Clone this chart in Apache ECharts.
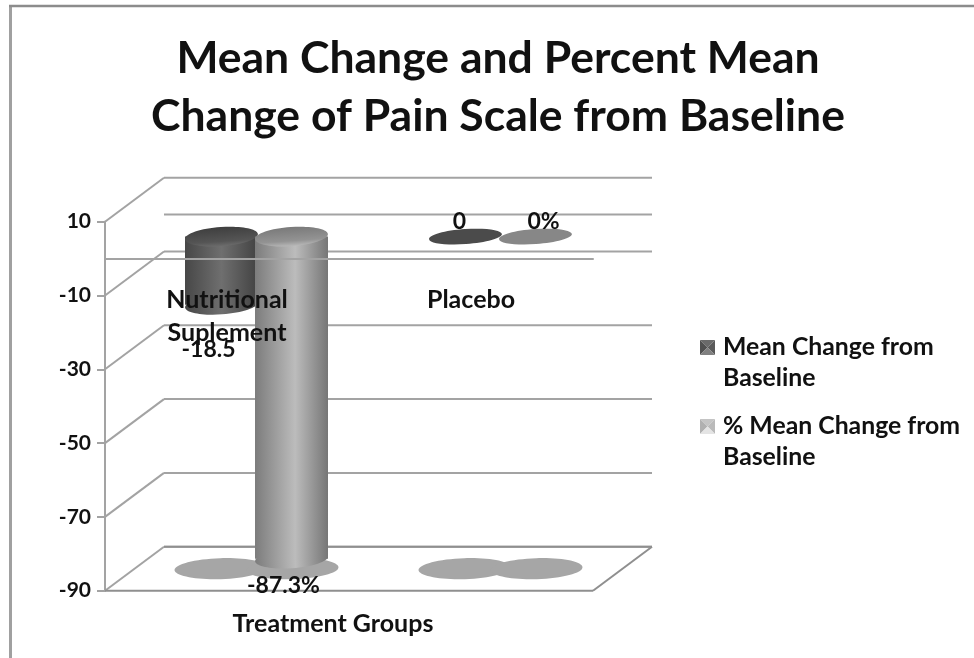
<!DOCTYPE html>
<html>
<head>
<meta charset="utf-8">
<style>html,body{margin:0;padding:0;background:#fff}#chart{width:974px;height:658px}</style>
<script src="https://cdn.jsdelivr.net/npm/echarts@6/dist/echarts.min.js"></script>
</head>
<body>
<div id="chart"></div>
<script>
const titleText = 'Mean Change and Percent Mean\nChange of Pain Scale from Baseline';
const categories = ['Nutritional\nSuplement', 'Placebo'];
const meanChange = [-18.5, 0];
const percentMeanChange = [-87.3, 0];
const meanName = 'Mean Change from Baseline';
const percentName = '% Mean Change from Baseline';
const axisTitle = 'Treatment Groups';
const wallLevels = [10, 0, -10, -30, -50, -70, -90];
const sideLevels = [10, -10, -30, -50, -70, -90];

const FONT = 'Lato';
const INK = '#111';
const DEPTH = [59, -44];
const RX = 36.5, RY = 9.5, TILT = 0.07;
const linear = (x, y, x2, y2, stops) => ({
  type: 'linear', x, y, x2, y2,
  colorStops: stops.map(([offset, color]) => ({ offset, color }))
});
const looks = {
  dark: {
    side: linear(0, 0, 1, 0, [[0, '#474747'], [0.5, '#6f6f6f'], [1, '#424242']]),
    top: linear(0, 0, 0, 1, [[0, '#3f3f3f'], [0.75, '#555555'], [1, '#6c6c6c']]),
    flat: '#4b4b4b',
    shift: -35,
    floorShift: -36
  },
  light: {
    side: linear(0, 0, 1, 0, [[0, '#7c7c7c'], [0.55, '#bcbcbc'], [1, '#767676']]),
    top: linear(0, 0, 0, 1, [[0, '#7a7a7a'], [0.72, '#939393'], [1, '#b8b8b8']]),
    flat: '#878787',
    shift: 35,
    floorShift: 36
  }
};

// Offsets of the value captions from the foot of each cylinder
const meanCaptionNudge = [[-13, 45], [-6, -15]];
const percentCaptionNudge = [[-8, 27], [8, -15]];

function ellipse(cx, cy, rx, ry, fill, tilt) {
  return {
    type: 'ellipse',
    shape: { cx: 0, cy: 0, rx, ry },
    x: cx, y: cy, rotation: tilt,
    style: { fill }
  };
}

// One cylinder hanging from the zero plane, half way into the chart's depth
function cylinderRenderer(look, captions, nudges) {
  return function (params, api) {
    const i = api.value(0);
    const v = api.value(1);
    const top = api.coord([i, 0]);
    const foot = api.coord([i, v]);
    const floor = api.coord([i, -90]);
    const mid = top[0] + DEPTH[0] / 2;
    const cx = mid + look.shift;
    const dy = DEPTH[1] / 2;
    const children = [ellipse(mid + look.floorShift, floor[1] + dy, 46, 10.5, '#a6a6a6', 0.03)];
    if (v !== 0) {
      children.push(ellipse(cx, foot[1] + dy, RX, RY, look.side, TILT));
      children.push({
        type: 'rect',
        shape: { x: cx - RX, y: top[1] + dy, width: RX * 2, height: foot[1] - top[1] },
        style: { fill: look.side }
      });
      children.push(ellipse(cx, top[1] + dy, RX, RY, look.top, TILT));
    } else {
      children.push(ellipse(cx, top[1] + dy, RX, RY - 2, look.flat, TILT));
    }
    children.push({
      type: 'text',
      z2: 100,
      x: cx + nudges[i][0],
      y: foot[1] + dy + nudges[i][1],
      style: {
        text: captions[i],
        fill: INK,
        font: '700 23px ' + FONT,
        align: 'center',
        verticalAlign: 'middle'
      }
    });
    return { type: 'group', children };
  };
}

// Back wall, side wall and floor rules, all projected from the value axis
function renderFrame(params, api) {
  const stroke = { stroke: '#a3a3a3', lineWidth: 2, fill: null };
  const seg = (a, b, style) => ({
    type: 'line',
    shape: { x1: a[0], y1: a[1], x2: b[0], y2: b[1] },
    style: style || stroke
  });
  const shift = p => [p[0] + DEPTH[0], p[1] + DEPTH[1]];
  const plot = params.coordSys;
  const left = l => [plot.x, api.coord([0, l])[1]];
  const right = l => [plot.x + plot.width, api.coord([0, l])[1]];
  const children = [];
  wallLevels.forEach(l => children.push(seg(shift(left(l)), shift(right(l)))));
  sideLevels.forEach(l => children.push(seg(left(l), shift(left(l)))));
  const floorStroke = { stroke: '#8f8f8f', lineWidth: 2, fill: null };
  children.push(seg(left(-90), right(-90), floorStroke));
  children.push(seg(right(-90), shift(right(-90)), floorStroke));
  children.push(seg(shift(left(-90)), shift(right(-90)), floorStroke));
  return { type: 'group', children };
}

const bevelIcon = (n, w, e, s) => 'image://data:image/svg+xml,' + encodeURIComponent(
  '<svg xmlns="http://www.w3.org/2000/svg" width="15" height="15">' +
  '<polygon points="0,0 15,0 7.5,7.5" fill="' + n + '"/>' +
  '<polygon points="0,0 0,15 7.5,7.5" fill="' + w + '"/>' +
  '<polygon points="15,0 15,15 7.5,7.5" fill="' + e + '"/>' +
  '<polygon points="0,15 15,15 7.5,7.5" fill="' + s + '"/></svg>');

const pairs = values => values.map((v, i) => [i, v]);

const chart = echarts.init(document.getElementById('chart'), null, { renderer: 'canvas' });
chart.setOption({
  animation: false,
  backgroundColor: '#ffffff',
  title: {
    text: titleText,
    left: 493,
    top: 25,
    textAlign: 'center',
    textStyle: { fontFamily: FONT, fontWeight: 700, fontSize: 44.5, lineHeight: 58, color: INK }
  },
  legend: {
    orient: 'vertical',
    left: 700,
    top: 301,
    padding: 0,
    itemWidth: 15,
    itemHeight: 15,
    itemGap: -14,
    selectedMode: false,
    align: 'left',
    data: [
      { name: meanName, icon: bevelIcon('#6a6a6a', '#505050', '#5a5a5a', '#808080') },
      { name: percentName, icon: bevelIcon('#c4c4c4', '#b0b0b0', '#bababa', '#e4e4e4') }
    ],
    // The leading blank line keeps each marker level with the first line of text
    formatter: n => '\n' + n.replace(/ from Baseline$/, ' from\nBaseline'),
    textStyle: { fontFamily: FONT, fontWeight: 700, fontSize: 24.8, lineHeight: 31, color: INK, padding: [0, 0, 0, 3] }
  },
  grid: { left: 105, top: 221.7, width: 488, height: 369, outerBoundsMode: 'none' },
  xAxis: {
    type: 'category',
    data: categories,
    z: 5,
    axisLine: { onZero: true, lineStyle: { color: '#a3a3a3', width: 2 } },
    axisTick: { show: false },
    axisLabel: {
      margin: -307,
      fontFamily: FONT, fontWeight: 700, fontSize: 25, lineHeight: 33, color: INK
    },
    name: axisTitle,
    nameLocation: 'middle',
    nameGap: 21,
    nameTextStyle: {
      fontFamily: FONT, fontWeight: 700, fontSize: 25, color: INK, padding: [0, 32, 0, 0]
    }
  },
  yAxis: {
    type: 'value',
    min: -90,
    max: 10,
    interval: 20,
    axisLine: { show: true, lineStyle: { color: '#a3a3a3', width: 2 } },
    axisTick: { show: true, length: 8, lineStyle: { color: '#a3a3a3', width: 2 } },
    splitLine: { show: false },
    axisLabel: { margin: 14, fontFamily: FONT, fontWeight: 700, fontSize: 21, color: INK, padding: [0, 0, 4, 0] }
  },
  series: [
    {
      name: 'frame',
      type: 'custom',
      z: 1,
      silent: true,
      renderItem: renderFrame,
      encode: { x: 0, y: 1 },
      data: [[0, -90]]
    },
    {
      name: meanName,
      type: 'custom',
      z: 2,
      renderItem: cylinderRenderer(looks.dark, meanChange.map(String), meanCaptionNudge),
      encode: { x: 0, y: 1 },
      data: pairs(meanChange)
    },
    {
      name: percentName,
      type: 'custom',
      z: 3,
      renderItem: cylinderRenderer(looks.light, percentMeanChange.map(v => v + '%'), percentCaptionNudge),
      encode: { x: 0, y: 1 },
      data: pairs(percentMeanChange)
    }
  ],
  graphic: [
    {
      type: 'line',
      silent: true,
      shape: { x1: 10.5, y1: 5, x2: 10.5, y2: 658 },
      style: { stroke: '#a0a0a0', lineWidth: 3 }
    },
    {
      type: 'line',
      silent: true,
      shape: { x1: 9, y1: 6, x2: 974, y2: 6 },
      style: { stroke: '#8c8c8c', lineWidth: 2.5 }
    }
  ]
});
</script>
</body>
</html>
